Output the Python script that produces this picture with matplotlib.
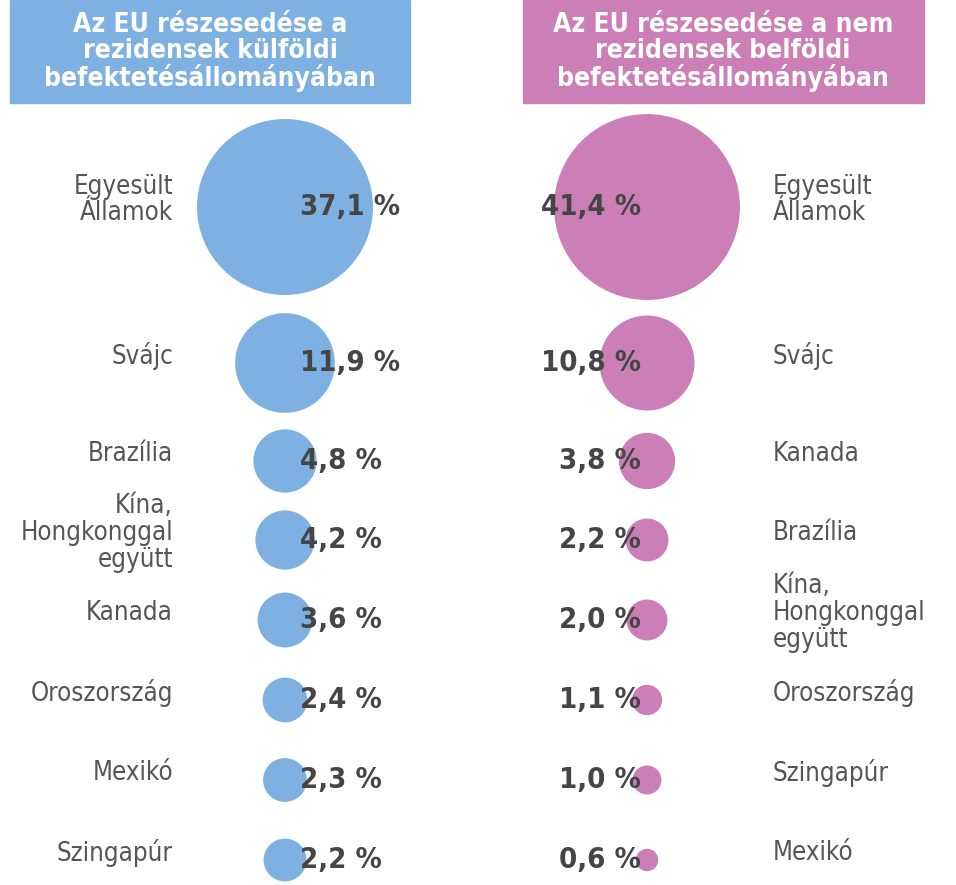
import matplotlib.pyplot as plt
from matplotlib.patches import Circle, Rectangle

left_countries = ["Egyesült\nÁllamok", "Svájc", "Brazília", "Kína,\nHongkonggal\negyütt",
                  "Kanada", "Oroszország", "Mexikó", "Szingapúr"]
left_values = [37.1, 11.9, 4.8, 4.2, 3.6, 2.4, 2.3, 2.2]
right_countries = ["Egyesült\nÁllamok", "Svájc", "Kanada", "Brazília",
                   "Kína,\nHongkonggal\negyütt", "Oroszország", "Szingapúr", "Mexikó"]
right_values = [41.4, 10.8, 3.8, 2.2, 2.0, 1.1, 1.0, 0.6]
left_title = "Az EU részesedése a\nrezidensek külföldi\nbefektetésállományában"
right_title = "Az EU részesedése a nem\nrezidensek belföldi\nbefektetésállományában"

row_y = [207, 363, 461, 540, 620, 700, 780, 860]
blue = "#7eb1e1"
pink = "#cc7fb6"
dark = "#454545"
grey = "#555555"
font = ["DejaVu Sans"]


def fmt(v):
    return f"{v:.1f}".replace(".", ",") + " %"


def radius(v):
    return 88 * (v / 37.1) ** 0.5


fig = plt.figure(figsize=(9.56, 8.85), dpi=100)
ax = fig.add_axes([0, 0, 1, 1])
ax.set_xlim(0, 956)
ax.set_ylim(885, 0)
ax.axis("off")

ax.add_patch(Rectangle((10, 0), 400, 103, color=blue))
ax.add_patch(Rectangle((523, 0), 401, 103, color=pink))
ax.text(210, 52, left_title, ha="center", va="center", color="white", fontsize=19,
        fontweight="bold", family=font, fontstretch="condensed", linespacing=1.0)
ax.text(723, 52, right_title, ha="center", va="center", color="white", fontsize=19,
        fontweight="bold", family=font, fontstretch="condensed", linespacing=1.0)

for y, name, v in zip(row_y, left_countries, left_values):
    ax.add_patch(Circle((285, y), radius(v), color=blue, lw=0))
    ax.text(173, y - 7, name, ha="right", va="center", color=grey, fontsize=18.5,
            family=font, fontstretch="condensed", linespacing=1.05)
    ax.text(300, y, fmt(v), ha="left", va="center", color=dark, fontsize=21,
            fontweight="bold", family=font, fontstretch="condensed")

for y, name, v in zip(row_y, right_countries, right_values):
    ax.add_patch(Circle((647, y), radius(v), color=pink, lw=0))
    ax.text(773, y - 7, name, ha="left", va="center", color=grey, fontsize=18.5,
            family=font, fontstretch="condensed", linespacing=1.05)
    ax.text(641, y, fmt(v), ha="right", va="center", color=dark, fontsize=21,
            fontweight="bold", family=font, fontstretch="condensed")

fig.savefig("out.png", dpi=100)
